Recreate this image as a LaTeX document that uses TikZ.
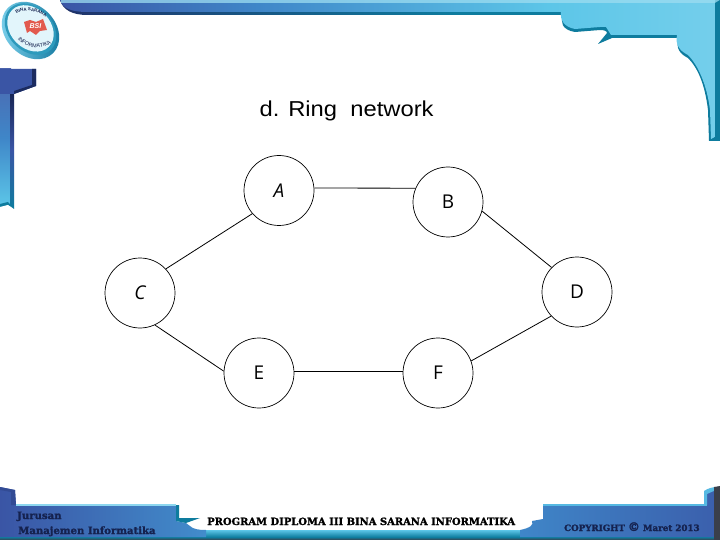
\documentclass[tikz,border=0pt]{standalone}
\usepackage{graphicx}
\usepackage{fontspec}
\setmainfont{Liberation Sans}
\newfontfamily\nodefont{Open Sans}
\newfontfamily\bannerfont[FakeBold=1.6]{DejaVu Serif Bold}
\usetikzlibrary{decorations.text}
\definecolor{bluedark}{HTML}{3A55A5}
\definecolor{bluemid}{HTML}{3F86C8}
\definecolor{cyanlight}{HTML}{5CC6E8}
\definecolor{tealdark}{HTML}{0E7C9E}
\definecolor{inkblue}{HTML}{15224F}
\definecolor{slatedark}{HTML}{3A3F4A}
\definecolor{logored}{HTML}{E25A4E}
\pgfdeclarehorizontalshading{topband}{100bp}{color(0bp)=(bluedark); color(25bp)=(bluedark); color(40bp)=(bluemid); color(62bp)=(cyanlight); color(75bp)=(cyanlight!85!white); color(100bp)=(cyanlight)}
\pgfdeclarehorizontalshading{topdark}{100bp}{color(0bp)=(inkblue); color(25bp)=(inkblue!70!bluedark); color(55bp)=(tealdark); color(100bp)=(tealdark)}
\tikzset{
  ring/.style={draw=black,circle,line width=0.7pt,minimum size=70pt,inner sep=0pt,fill=white,font=\nodefont\fontsize{19}{21}\selectfont},
  link/.style={draw=black,line width=0.8pt},
  banner/.style={font=\bannerfont,inner sep=0pt,anchor=base west},
}
\begin{document}
\begin{tikzpicture}[x=1pt,y=-1pt]
\useasboundingbox (0,0) rectangle (720,540);
\fill[white] (0,0) rectangle (720,540);

% top band and right column
\def\toppath{(60,0) .. controls (63,10) and (72,15) .. (88,15) -- (563,15) .. controls (560,22) and (562,30) .. (575,32) -- (600,30) .. controls (604,30) and (607,31) .. (607,33) -- (598,44) -- (612,38) -- (679,38) .. controls (675,48) and (680,54) .. (688,58) .. controls (698,68) and (705,85) .. (708,110) -- (709,141) -- (720,141) -- (720,0) -- cycle}
\shade[shading=topdark] \toppath;
\begin{scope}
\clip (60,0) .. controls (63,9) and (72,12) .. (88,12) -- (561,12) .. controls (560,20) and (564,27) .. (575,29) -- (600,27) -- (606,27) -- (611,35) -- (677,35) .. controls (675,45) and (680,51) .. (688,55) .. controls (698,65) and (707,85) .. (710,110) -- (711,139) -- (715,137) -- (715,0) -- cycle;
\shade[shading=topband] (60,0) rectangle (720,141);
\end{scope}
\fill[cyanlight!60!white,opacity=.75] (61,0) rectangle (720,3);
\fill[tealdark] (715,3) -- (720,0) -- (720,141) -- (709,141) -- (715,137) -- cycle;

% left bar
\shade[top color=bluedark!90!white,bottom color=cyanlight,middle color=bluemid] (0,69) rectangle (11,206);
\shade[top color=inkblue,bottom color=tealdark,middle color=bluedark] (10,90) -- (14,90) -- (14,209) -- (10,205) -- cycle;
\fill[bluedark] (0,69) -- (36,69) -- (36,86) -- (14,94) -- (10,94) -- (0,94) -- cycle;
\fill[inkblue!80!bluedark] (32,69) -- (36,69) -- (36,86) -- (14,94) -- (14,91) -- (32,85) -- cycle;
\fill[tealdark] (0,204) -- (8,202) -- (14,209) -- (8,205) -- (0,208) -- cycle;
\fill[white] (0,207) -- (8,205) -- (14,209.5) -- (14,212) -- (0,212) -- cycle;

% bottom band
\shade[top color=cyanlight,bottom color=tealdark] (190,530) rectangle (530,537);
\shade[top color=tealdark,bottom color=slatedark] (0,537) rectangle (720,540);
\shade[left color=bluedark,right color=bluemid!90!cyanlight] (0,487) -- (15,490) -- (16,505) -- (176,505) -- (176,521) -- (186,523) -- (190,526) .. controls (193,529) and (198,530) .. (206,530) -- (206,537) -- (0,537) -- cycle;
\fill[bluedark!80!inkblue] (0,487) -- (15,490) -- (16,505) -- (11,505) -- (11,492) -- (0,490) -- cycle;
\fill[cyanlight!70!white] (16,504) rectangle (176,506);
\fill[tealdark] (176,505) -- (179,505) -- (179,518) -- (200,518) -- (186,523) -- (176,521) -- cycle;
\shade[left color=bluemid,right color=bluedark!80!bluemid] (520,537) -- (520,530) .. controls (530,528) and (534,525) .. (532,521) -- (543,519) -- (543,505) -- (707,505) -- (704,492) .. controls (708,489) and (714,488) .. (720,487) -- (720,537) -- cycle;
\fill[cyanlight!80!bluemid] (543,504) rectangle (707,506);
\fill[cyanlight!80!bluemid] (704,491) .. controls (708,488) and (714,487) .. (716,487) -- (716,490) -- (707,494) -- (707,505) -- (704,505) -- cycle;
\fill[slatedark] (714,487) -- (720,486) -- (720,540) -- (714,540) -- cycle;

\node[banner,text=inkblue] (deptone) at (17,519) {\fontsize{10.1}{11}\selectfont Jurusan};
\node[banner,text=inkblue] (depttwo) at (18,534) {\fontsize{10.1}{11}\selectfont Manajemen Informatika};
\node[banner,text=black] (program) at (207,525) {\fontsize{9.95}{11}\selectfont PROGRAM DIPLOMA III BINA SARANA INFORMATIKA};
\node[banner,text=inkblue] (copyright) at (564,531) {\fontsize{8.7}{10}\selectfont COPYRIGHT {\fontsize{12}{12}\selectfont ©} Maret 2013};

% logo
\begin{scope}[shift={(30.5,30.5)},rotate=-45]
\shade[left color=cyanlight!80!white,right color=tealdark!90!bluedark] (0,0) ellipse [x radius=32,y radius=25];
\fill[tealdark!60!cyanlight] (-1,-1) ellipse [x radius=29,y radius=22];
\fill[white!82!cyanlight] (-1.5,-1.5) ellipse [x radius=26,y radius=20];
\end{scope}
\fill[logored] (24,22) -- (30,20) -- (36,22) -- (43,19) -- (47,30) -- (40,31) -- (36,35) -- (30,31) -- (27,33) -- cycle;
\node[font=\bfseries\itshape\fontsize{7}{7}\selectfont,text=white,inner sep=0pt] (logomark) at (35.5,26.5) {BSI};
\path[postaction={decorate,decoration={text along path,text align=center,text color=inkblue,text={|\bfseries\fontsize{4.4}{4}\selectfont|BINA SARANA}}}] (13,17) .. controls (20,8) and (38,9) .. (49,20);
\path[postaction={decorate,decoration={text along path,text align=center,text color=inkblue,text={|\fontsize{5.4}{5}\selectfont|INFORMATIKA}}}] (15,35) .. controls (22,49) and (44,52) .. (55,40);

% title
\node[inner sep=0pt,anchor=base west] (title) at (259.5,117) {\scalebox{1.1}[1]{\fontsize{21.6}{24}\selectfont d. Ring\ \ network}};

% ring
\node[ring] (A) at (279,190.5) {\itshape A};
\node[ring] (B) at (448,202) {B};
\node[ring] (C) at (140,293) {\itshape C};
\node[ring] (D) at (577,292) {D};
\node[ring] (E) at (259,373) {E};
\node[ring] (F) at (438,373) {F};
\draw[link] (A.4) -- (B.157);
\draw[link] (C.43) -- (A.221);
\draw[link] (C.-65) -- (E.177);
\draw[link] (E.3) -- (F.177);
\draw[link] (B.-15) -- (D.136);
\draw[link] (F.20) -- (D.223);
\end{tikzpicture}
\end{document}
